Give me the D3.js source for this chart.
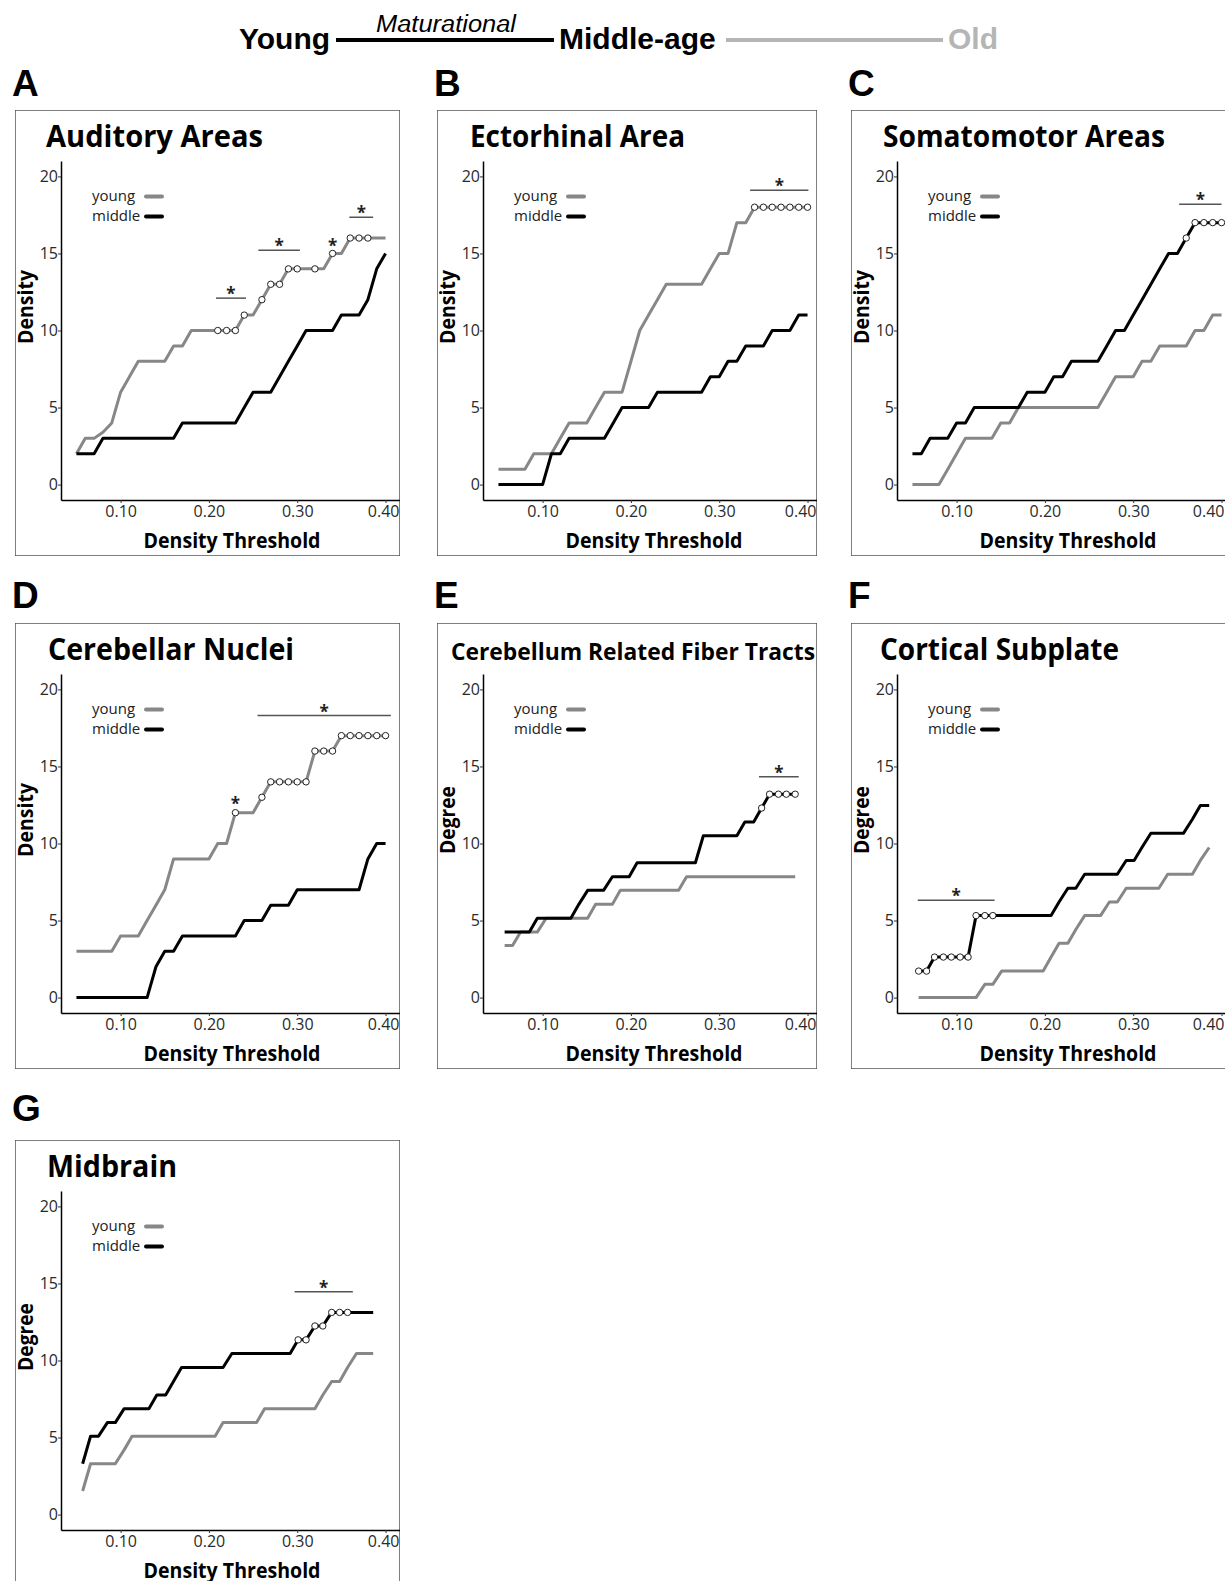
<!DOCTYPE html>
<html>
<head>
<meta charset="utf-8">
<script src="https://cdn.jsdelivr.net/npm/d3@7"></script>
<style>
  body { margin: 0; background: #fff; }
  svg { display: block; }
</style>
</head>
<body>
<div id="chart"></div>
<script>
// Data
// ---------------------------------------------------------------------------
var thresholds = [0.05, 0.06, 0.07, 0.08, 0.09, 0.10, 0.11, 0.12, 0.13, 0.14,
  0.15, 0.16, 0.17, 0.18, 0.19, 0.20, 0.21, 0.22, 0.23, 0.24, 0.25, 0.26, 0.27,
  0.28, 0.29, 0.30, 0.31, 0.32, 0.33, 0.34, 0.35, 0.36, 0.37, 0.38, 0.39, 0.40];

var degreeThresholds = [0.057, 0.066, 0.075, 0.085, 0.094, 0.104, 0.113, 0.122,
  0.132, 0.141, 0.151, 0.160, 0.169, 0.179, 0.188, 0.198, 0.207, 0.216, 0.226,
  0.235, 0.245, 0.254, 0.263, 0.273, 0.282, 0.292, 0.301, 0.310, 0.320, 0.329,
  0.339, 0.348, 0.357, 0.367, 0.376, 0.386];

var yTicks = [0, 5, 10, 15, 20];
var xTicks = [0.10, 0.20, 0.30, 0.40];

var auditoryYoung  = [2,3,3,3.4,4,6,7,8,8,8,8,9,9,10,10,10,10,10,10,11,11,12,13,13,14,14,14,14,14,15,15,16,16,16,16,16];
var auditoryMiddle = [2,2,2,3,3,3,3,3,3,3,3,3,4,4,4,4,4,4,4,5,6,6,6,7,8,9,10,10,10,10,11,11,11,12,14,15];
var auditoryMarked = [16,17,18,19,21,22,23,24,25,27,29,31,32,33];
var auditoryBars   = [[0.208, 0.242, 12.1], [0.256, 0.303, 15.2], [0.359, 0.386, 17.35]];
var auditoryStars  = [[0.34, 15.74]];

var ectorhinalYoung  = [1,1,1,1,2,2,2,3,4,4,4,5,6,6,6,8,10,11,12,13,13,13,13,13,14,15,15,17,17,18,18,18,18,18,18,18];
var ectorhinalMiddle = [0,0,0,0,0,0,2,2,3,3,3,3,3,4,5,5,5,5,6,6,6,6,6,6,7,7,8,8,9,9,9,10,10,10,11,11];
var ectorhinalMarked = [29,30,31,32,33,34,35];
var ectorhinalBars   = [[0.335, 0.401, 19.1]];

var somatoYoung  = [0,0,0,0,1,2,3,3,3,3,4,4,5,5,5,5,5,5,5,5,5,5,6,7,7,7,8,8,9,9,9,9,10,10,11,11];
var somatoMiddle = [2,2,3,3,3,4,4,5,5,5,5,5,5,6,6,6,7,7,8,8,8,8,9,10,10,11,12,13,14,15,15,16,17,17,17,17];
var somatoMarked = [31,32,33,34,35];
var somatoBars   = [[0.352, 0.40, 18.2]];

var nucleiYoung  = [3,3,3,3,3,4,4,4,5,6,7,9,9,9,9,9,10,10,12,12,12,13,14,14,14,14,14,16,16,16,17,17,17,17,17,17];
var nucleiMiddle = [0,0,0,0,0,0,0,0,0,2,3,3,4,4,4,4,4,4,4,5,5,5,6,6,6,7,7,7,7,7,7,7,7,9,10,10];
var nucleiMarked = [18,21,22,23,24,25,26,27,28,29,30,31,32,33,34,35];
var nucleiBars   = [[0.255, 0.406, 18.3]];
var nucleiStars  = [[0.23, 12.82]];

var fiberYoung  = [3.38,3.38,4.25,4.25,4.25,5.15,5.15,5.15,5.15,5.15,5.15,6.05,6.05,6.05,6.96,6.96,6.96,6.96,6.96,6.96,6.96,6.96,
  7.84,7.84,7.84,7.84,7.84,7.84,7.84,7.84,7.84,7.84,7.84,7.84,7.84,7.84];
var fiberMiddle = [4.25,4.25,4.25,4.25,5.15,5.15,5.15,5.15,5.15,6.05,6.96,6.96,6.96,7.84,7.84,7.84,8.75,8.75,8.75,8.75,8.75,8.75,8.75,8.75,
  10.5,10.5,10.5,10.5,10.5,11.4,11.4,12.3,13.2,13.2,13.2,13.2];
var fiberMarked = [31,32,33,34,35];
var fiberBars   = [[0.345, 0.39, 14.33]];

var subplateYoung  = [0,0,0,0,0,0,0,0,0.86,0.86,1.72,1.72,1.72,1.72,1.72,1.72,2.63,3.53,3.53,4.42,5.32,5.32,5.32,6.2,6.2,
  7.1,7.1,7.1,7.1,7.1,8.0,8.0,8.0,8.0,8.9,9.74];
var subplateMiddle = [1.72,1.72,2.63,2.63,2.63,2.63,2.63,5.32,5.32,5.32,5.32,5.32,5.32,5.32,5.32,5.32,5.32,6.2,7.1,7.1,
  8.0,8.0,8.0,8.0,8.0,8.9,8.9,9.76,10.67,10.67,10.67,10.67,10.67,11.57,12.46,12.46];
var subplateMarked = [0,1,2,3,4,5,6,7,8,9];
var subplateBars   = [[0.056, 0.143, 6.31]];

var midbrainYoung  = [1.53,3.3,3.3,3.3,3.3,4.2,5.09,5.09,5.09,5.09,5.09,5.09,5.09,5.09,5.09,5.09,5.09,5.97,5.97,5.97,5.97,5.97,
  6.875,6.875,6.875,6.875,6.875,6.875,6.875,7.76,8.64,8.64,9.55,10.45,10.45,10.45];
var midbrainMiddle = [3.3,5.09,5.09,5.97,5.97,6.875,6.875,6.875,6.875,7.76,7.76,8.66,9.55,9.55,9.55,9.55,9.55,9.55,
  10.45,10.45,10.45,10.45,10.45,10.45,10.45,10.45,11.34,11.34,12.24,12.24,13.12,13.12,13.12,13.12,13.12,13.12];
var midbrainMarked = [26,27,28,29,30,31,32];
var midbrainBars   = [[0.297, 0.363, 14.46]];

;(function() {
  "use strict";

  var panels = [
    { letter: "A", title: "Auditory Areas", ylab: "Density", x: thresholds,
      young: auditoryYoung, middle: auditoryMiddle, marked: "young", markIdx: auditoryMarked,
      bars: auditoryBars, stars: auditoryStars },
    { letter: "B", title: "Ectorhinal Area", ylab: "Density", x: thresholds,
      young: ectorhinalYoung, middle: ectorhinalMiddle, marked: "young", markIdx: ectorhinalMarked,
      bars: ectorhinalBars, stars: [] },
    { letter: "C", title: "Somatomotor Areas", ylab: "Density", x: thresholds,
      young: somatoYoung, middle: somatoMiddle, marked: "middle", markIdx: somatoMarked,
      bars: somatoBars, stars: [] },
    { letter: "D", title: "Cerebellar Nuclei", ylab: "Density", x: thresholds,
      young: nucleiYoung, middle: nucleiMiddle, marked: "young", markIdx: nucleiMarked,
      bars: nucleiBars, stars: nucleiStars },
    { letter: "E", title: "Cerebellum Related Fiber Tracts", ylab: "Degree", x: degreeThresholds,
      young: fiberYoung, middle: fiberMiddle, marked: "middle", markIdx: fiberMarked,
      bars: fiberBars, stars: [] },
    { letter: "F", title: "Cortical Subplate", ylab: "Degree", x: degreeThresholds,
      young: subplateYoung, middle: subplateMiddle, marked: "middle", markIdx: subplateMarked,
      bars: subplateBars, stars: [] },
    { letter: "G", title: "Midbrain", ylab: "Degree", x: degreeThresholds,
      young: midbrainYoung, middle: midbrainMiddle, marked: "middle", markIdx: midbrainMarked,
      bars: midbrainBars, stars: [] }
  ];

  // Layout
  // ---------------------------------------------------------------------------
  var colX = [15, 437, 851], colW = [385, 380, 380];
  var rowY = [110, 623, 1140], rowH = 446;
  var letterX = [12, 434, 848], letterY = [96, 608, 1121];

  var titleFit = [
    { dx: 31, w: 217, size: 31 },
    { dx: 33, w: 215, size: 31 },
    { dx: 32, w: 282, size: 31 },
    { dx: 33, w: 246, size: 31 },
    { dx: 14, w: 364, size: 24 },
    { dx: 29, w: 239, size: 31 },
    { dx: 32, w: 130, size: 31 }
  ];

  var GRAY = "#878787", BLACK = "#000";
  var FONT = "'Open Sans', sans-serif";
  var HEAD = "'Liberation Sans', Arial, sans-serif";

  var svg = d3.select("#chart").append("svg")
    .attr("width", 1225)
    .attr("height", 1581);

  // Header
  // ---------------------------------------------------------------------------
  var head = svg.append("g").attr("font-family", HEAD).attr("font-weight", "bold")
    .attr("font-size", 30);

  head.append("text").attr("x", 239).attr("y", 49).text("Young");
  head.append("line").attr("x1", 336).attr("x2", 554).attr("y1", 40).attr("y2", 40)
    .attr("stroke", BLACK).attr("stroke-width", 4);
  head.append("text").attr("x", 376).attr("y", 32).attr("font-weight", "normal")
    .attr("font-style", "italic").attr("font-size", 23)
    .attr("textLength", 140).attr("lengthAdjust", "spacingAndGlyphs").text("Maturational");
  head.append("text").attr("x", 559).attr("y", 49).text("Middle-age");
  head.append("line").attr("x1", 726).attr("x2", 943).attr("y1", 40).attr("y2", 40)
    .attr("stroke", "#b5b5b5").attr("stroke-width", 4);
  head.append("text").attr("x", 948).attr("y", 49).attr("fill", "#b5b5b5").text("Old");

  // Panels
  // ---------------------------------------------------------------------------
  panels.forEach(function(p, i) {
    var col = i % 3, row = Math.floor(i / 3);
    var bx = colX[col], by = rowY[row], bw = colW[col];
    var left = bx + 46, top = by + 51, bottom = by + 390, right = left + 340;
    var edge = Math.min(bx + bw, 1225) - 1;
    var fit = titleFit[i];

    var x = d3.scaleLinear().domain([0.0325, 0.4175]).range([left, right]);
    var y = d3.scaleLinear().domain([-1, 21]).range([bottom, top]);

    svg.append("text")
      .attr("x", letterX[col]).attr("y", letterY[row])
      .attr("font-family", HEAD).attr("font-weight", "bold").attr("font-size", 37)
      .text(p.letter);

    svg.append("clipPath").attr("id", "clip" + i)
      .append("rect").attr("x", bx).attr("y", by).attr("width", bw).attr("height", rowH);

    var g = svg.append("g").attr("clip-path", "url(#clip" + i + ")")
      .attr("font-family", FONT);

    g.append("rect")
      .attr("x", bx).attr("y", by).attr("width", bw).attr("height", rowH)
      .attr("fill", "none").attr("stroke", "#555").attr("stroke-width", 1.5);

    g.append("text")
      .attr("x", bx + fit.dx).attr("y", by + 37)
      .attr("font-weight", "bold").attr("font-size", fit.size)
      .attr("textLength", fit.w).attr("lengthAdjust", "spacingAndGlyphs")
      .text(p.title);

    // axes
    var yAxis = g.append("g")
      .attr("transform", "translate(" + left + ",0)")
      .call(d3.axisLeft(y).tickValues(yTicks).tickSize(3).tickSizeOuter(0).tickPadding(0));

    var xAxis = g.append("g")
      .attr("transform", "translate(0," + bottom + ")")
      .call(d3.axisBottom(x).tickValues(xTicks).tickSize(3).tickSizeOuter(0).tickPadding(3)
        .tickFormat(d3.format(".2f")));

    [yAxis, xAxis].forEach(function(a) {
      a.select(".domain").attr("stroke", BLACK).attr("stroke-width", 1.5);
      a.selectAll(".tick line").attr("stroke", "#333");
      a.selectAll(".tick text").attr("fill", "#2a2a2a").attr("font-size", 16)
        .attr("font-family", FONT);
    });

    // keep the last tick label inside the panel frame
    xAxis.selectAll(".tick text").each(function(d) {
      var w = this.getComputedTextLength();
      var over = x(d) + w / 2 - edge;
      if (over > 0) d3.select(this).attr("x", -over);
    });

    g.append("text")
      .attr("transform", "translate(" + (bx + 18) + "," + (by + 197) + ") rotate(-90)")
      .attr("text-anchor", "middle").attr("font-weight", "bold").attr("font-size", 21)
      .attr("textLength", p.ylab === "Density" ? 74 : 68).attr("lengthAdjust", "spacingAndGlyphs")
      .text(p.ylab);

    g.append("text")
      .attr("x", left + 171).attr("y", by + 437.5)
      .attr("text-anchor", "middle").attr("font-weight", "bold").attr("font-size", 21)
      .attr("textLength", 177).attr("lengthAdjust", "spacingAndGlyphs")
      .text("Density Threshold");

    // legend
    var legend = g.append("g").attr("font-size", 15).attr("fill", "#222");
    [["young", GRAY, 91], ["middle", BLACK, 111]].forEach(function(l) {
      legend.append("text").attr("x", bx + 77).attr("y", by + l[2]).text(l[0]);
      legend.append("line")
        .attr("x1", bx + 131).attr("x2", bx + 147)
        .attr("y1", by + l[2] - 4.5).attr("y2", by + l[2] - 4.5)
        .attr("stroke", l[1]).attr("stroke-width", 4).attr("stroke-linecap", "round");
    });

    // series
    var line = d3.line()
      .x(function(d, j) { return x(p.x[j]); })
      .y(function(d) { return y(d); });

    g.append("path").datum(p.young)
      .attr("d", line).attr("fill", "none")
      .attr("stroke", GRAY).attr("stroke-width", 3).attr("stroke-linejoin", "round");

    g.append("path").datum(p.middle)
      .attr("d", line).attr("fill", "none")
      .attr("stroke", BLACK).attr("stroke-width", 3).attr("stroke-linejoin", "round");

    var marked = p[p.marked];
    g.selectAll("circle.mark")
      .data(p.markIdx)
      .enter().append("circle")
        .attr("class", "mark")
        .attr("cx", function(j) { return x(p.x[j]); })
        .attr("cy", function(j) { return y(marked[j]); })
        .attr("r", 3.2)
        .attr("fill", "#fff").attr("stroke", "#222").attr("stroke-width", 1);

    // significance
    p.bars.forEach(function(b) {
      g.append("line")
        .attr("x1", x(b[0])).attr("x2", x(b[1]))
        .attr("y1", y(b[2])).attr("y2", y(b[2]))
        .attr("stroke", "#555").attr("stroke-width", 1.5);
      g.append("text")
        .attr("x", x((b[0] + b[1]) / 2)).attr("y", y(b[2]) + 2)
        .attr("text-anchor", "middle").attr("font-weight", "bold").attr("font-size", 17)
        .attr("fill", "#222").text("*");
    });

    p.stars.forEach(function(s) {
      g.append("text")
        .attr("x", x(s[0])).attr("y", y(s[1]) + 10)
        .attr("text-anchor", "middle").attr("font-weight", "bold").attr("font-size", 17)
        .attr("fill", "#222").text("*");
    });
  });
})();
</script>
</body>
</html>
